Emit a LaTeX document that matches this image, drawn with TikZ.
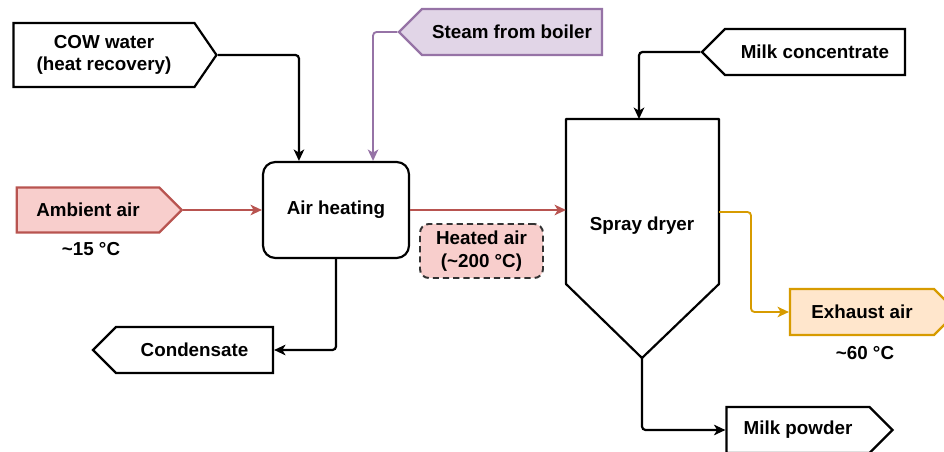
\documentclass[tikz,border=0pt]{standalone}
\usepackage{fontspec}
\setmainfont{Liberation Sans}
\usetikzlibrary{arrows.meta,shapes.symbols,calc}

\definecolor{airfill}{HTML}{F8CECC}
\definecolor{airline}{HTML}{B85450}
\definecolor{steamfill}{HTML}{E1D5E7}
\definecolor{steamline}{HTML}{9673A6}
\definecolor{exhfill}{HTML}{FFE6CC}
\definecolor{exhline}{HTML}{D79B00}

\begin{document}
\begin{tikzpicture}[
  x=0.02cm, y=-0.02cm,
  >={Stealth[length=6.5pt, width=6pt, inset=1.8pt]},
  txt/.style={font=\fontsize{10.7}{12.8}\selectfont\bfseries},
  tag/.style={signal, draw=black, line width=1.25pt, fill=white, txt, align=center, minimum height=0.92cm, signal pointer angle=90},
  unit/.style={rectangle, rounded corners=7pt, draw=black, line width=1.25pt, txt, minimum width=2.92cm, minimum height=1.92cm},
  note/.style={rectangle, rounded corners=5pt, draw=black!80, line width=1.1pt, dash pattern=on 3.5pt off 2.3pt, fill=airfill, txt, align=center, minimum width=2.46cm, minimum height=1.08cm},
  flow/.style={->, line width=1.25pt, rounded corners=2pt},
  cflow/.style={flow, line width=1.05pt}
]
\useasboundingbox (0,0) rectangle (944,452);

% inputs and outputs
\node[tag, signal to=east, minimum width=4.06cm, minimum height=1.28cm, signal pointer angle=111] (cow) at (104,55) {COW water\\(heat recovery)};
\node[tag, signal to=east, minimum width=3.3cm, minimum height=0.9cm, fill=airfill, draw=airline] (amb) at (88,210) {Ambient air};
\node[tag, signal to=west, minimum width=4.06cm, fill=steamfill, draw=steamline] (steam) at (512,32) {Steam from boiler};
\node[tag, signal to=west, minimum width=4.06cm] (milkc) at (815,52) {Milk concentrate};
\node[tag, signal to=west, minimum width=3.6cm] (cond) at (194.5,350) {Condensate};
\node[tag, signal to=east, minimum width=3.34cm, fill=exhfill, draw=exhline] (exh) at (862,312) {Exhaust air};
\node[tag, signal to=east, minimum width=3.32cm] (powder) at (798,430) {Milk powder};

\node[txt] (amblbl) at (91,249) {\textasciitilde15 °C};
\node[txt] (exhlbl) at (865,353) {\textasciitilde60 °C};

% air heater and spray dryer
\node[unit] (ah) at (336,210) {Air heating};
\draw[line width=1.25pt, line join=round] (566,119) -- (719,119) -- (719,284) -- (642,358) -- (566,284) -- cycle;
\node[txt] (sd) at (642,226) {Spray dryer};
\coordinate (sdtop) at (639,119);
\coordinate (sdleft) at (566,210);
\coordinate (sdright) at (719,212);
\coordinate (sdapex) at (642,358);

\node[note] (hot) at (481.5,251) {Heated air\\(\textasciitilde200 °C)};

% air heating streams
\draw[flow] (cow.east) -| ($(ah.north west)!0.25!(ah.north east)$);
\draw[cflow, steamline] (steam.west) -| ($(ah.north west)!0.75!(ah.north east)$);
\draw[cflow, airline] (amb.east) -- (amb.east -| ah.west);
\draw[flow] (ah.south) |- (cond.east);
\draw[cflow, airline] (ah.east) -- (ah.east -| sdleft);

% spray dryer streams
\draw[flow] (milkc.west) -| (sdtop);
\draw[cflow, exhline] (sdright) -- ++(32,0) |- (exh.west);
\draw[flow] (sdapex) |- (powder.west);

\end{tikzpicture}
\end{document}
